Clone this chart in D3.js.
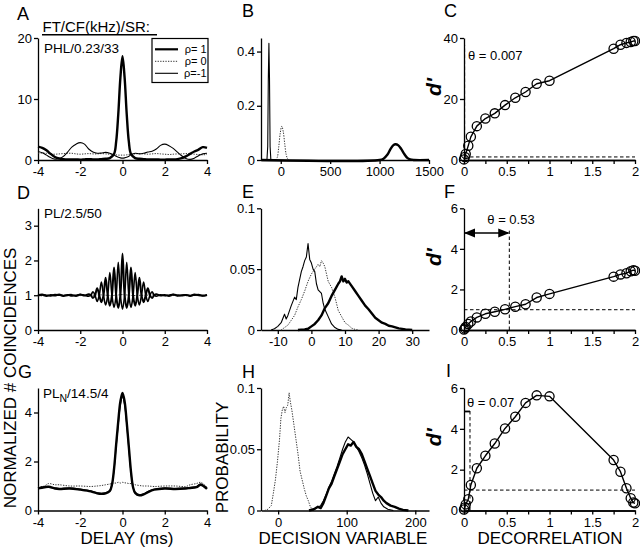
<!DOCTYPE html>
<html><head><meta charset="utf-8">
<script src="https://cdn.jsdelivr.net/npm/d3@7"></script>
<style>body{margin:0;background:#fff} text{font-family:"Liberation Sans",Arial,Helvetica,sans-serif}</style>
</head><body><script>
// ---------- DATA ----------
// Panel A (PHL/0.23/33) normalized coincidences vs delay (ms)
const aDelay = [-4,-3.8,-3.6,-3.4,-3.2,-3,-2.8,-2.6,-2.4,-2.2,-2,-1.8,-1.6,-1.4,-1.2,-1,-0.8,-0.6,-0.4,-0.3,-0.2,-0.1,0,0.1,0.2,0.3,0.4,0.6,0.8,1,1.2,1.4,1.6,1.8,2,2.2,2.4,2.6,2.8,3,3.2,3.4,3.6,3.8,4];
const aRho1 = [2.2,2.0,1.6,1.0,0.5,0.25,0.15,0.1,0.1,0.1,0.05,0.1,0.15,0.1,0.1,0.15,0.2,0.3,1.0,3.0,7.5,13.5,17,13.5,7.5,3.0,1.0,0.3,0.2,0.15,0.1,0.1,0.1,0.05,0.05,0.1,0.1,0.15,0.3,0.6,1.0,1.4,1.7,2.1,2.0];
const aRho0 = [1.1,1.15,1.1,1.0,0.95,1.0,1.05,1.1,1.1,1.0,0.95,1.0,1.05,1.0,1.0,1.05,1.0,0.95,0.9,0.85,0.8,0.8,0.8,0.8,0.85,0.9,0.95,1.0,1.05,1.0,0.95,1.0,1.05,1.0,0.95,0.9,0.95,1.0,1.0,1.05,1.0,0.95,0.9,0.85,0.9];
const aRhoM1 = [1.4,1.2,0.8,0.4,0.15,0.2,0.6,1.3,2.1,2.6,2.85,2.6,1.8,1.3,1.1,1.15,1.25,1.1,0.8,0.6,0.45,0.35,0.3,0.35,0.45,0.6,0.85,1.1,1.0,1.1,1.3,1.45,1.8,2.4,2.6,2.35,1.9,1.3,0.7,0.25,0.1,0.3,0.7,1.0,1.1];
// Panel B distributions of decision variable
const bRho1X = [-200,1000,1040,1080,1110,1140,1160,1190,1220,1250,1280,1310,1350,1500];
const bRho1Y = [0,0,0.005,0.02,0.04,0.055,0.058,0.054,0.04,0.022,0.008,0.002,0,0];
const bRho0X = [-50,-35,-20,-5,10,25,40,55,70,85];
const bRho0Y = [0,0.01,0.05,0.1,0.125,0.105,0.06,0.02,0.004,0];
const bRhoM1X = [-140,-132,-126,-120,-114,-108,-100];
const bRhoM1Y = [0,0.05,0.3,0.43,0.3,0.05,0];
// Panels C, F, I: d' vs decorrelation
const decorr = [0,0.01,0.02,0.05,0.08,0.15,0.25,0.36,0.48,0.6,0.72,0.85,1.0,1.75,1.83,1.9,1.95,1.98,2.0];
const cDprime = [0.2,1.0,2.0,4.7,7.6,11.1,13.6,15.3,18,20.4,22.3,25,26,36.5,37.8,38.4,38.7,39,39];
const fDprime = [0.02,0.08,0.15,0.3,0.42,0.62,0.8,0.9,1.02,1.15,1.27,1.6,1.78,2.63,2.74,2.8,2.9,2.95,2.92];
const iDprime = [0.05,0.15,0.3,0.55,1.25,2.07,2.68,3.28,4.02,4.59,5.27,5.64,5.59,2.47,1.9,1.09,0.6,0.39,0.35];
const thetas = [0.007, 0.53, 0.07];
const thetaLabels = ["θ = 0.007", "θ = 0.53", "θ = 0.07"];
// Panel D (PL/2.5/50)
const dDelay = [-4,-3.8,-3.6,-3.4,-3.2,-3,-2.8,-2.6,-2.4,-2.2,-2,-1.8,-1.6,-1.5,-1.4,-1.3,-1.2,-1.1,-1,-0.9,-0.8,-0.7,-0.6,-0.5,-0.4,-0.3,-0.2,-0.1,0,0.1,0.2,0.3,0.4,0.5,0.6,0.7,0.8,0.9,1,1.1,1.2,1.3,1.4,1.5,1.6,1.8,2,2.2,2.4,2.6,2.8,3,3.2,3.4,3.6,3.8,4];
const dRho1 = [1.0,1.02,0.98,1.01,0.99,1.02,0.98,1.0,1.01,0.98,1.02,0.99,
 1.03,1.0,0.92,1.0,1.2,1.0,0.8,1.0,1.5,1.0,0.7,1.0,1.8,1.0,0.63,1.0,2.2,1.0,0.63,1.0,1.8,1.0,0.7,1.0,1.5,1.0,0.8,1.0,1.2,1.0,0.92,1.0,1.03,
 0.99,1.01,0.98,1.02,1.0,0.99,1.01,0.98,1.02,1.0,0.99,1.01];
const dRhoM1 = [0.99,1.01,1.0,0.98,1.02,1.0,0.99,1.01,0.98,1.0,1.02,1.0,
 0.97,1.0,1.1,1.0,0.82,1.0,1.38,1.0,0.72,1.0,1.65,1.0,0.65,1.0,1.95,1.0,0.6,1.0,1.95,1.0,0.65,1.0,1.65,1.0,0.72,1.0,1.38,1.0,0.82,1.0,1.1,1.0,0.97,
 1.01,0.99,1.0,1.02,0.98,1.0,1.01,0.99,1.0,1.02,0.98,1.0];
const dRho0X = [-4,-3,-2,-1.5,-1,-0.5,0,0.5,1,1.5,2,3,4];
const dRho0Y = [0.98,1.0,0.99,1.0,1.01,0.99,1.02,0.99,1.0,1.01,0.99,1.0,0.98];
// Panel E
const eRhoM1X = [-12,-11,-10,-9,-8,-7.5,-7,-6,-5,-4.5,-4,-3,-2.5,-2,-1.5,-1,-0.5,0,0.5,1,1.5,2,3,3.5,4,5,6,7,8,9];
const eRhoM1Y = [0,0.001,0.003,0.006,0.013,0.009,0.012,0.02,0.027,0.025,0.035,0.048,0.052,0.057,0.06,0.071,0.058,0.055,0.05,0.048,0.038,0.033,0.03,0.022,0.017,0.011,0.005,0.002,0.0005,0];
const eRho0X = [-9,-8,-7,-6,-5,-4,-3,-2,-1,0,1,2,2.5,3,3.5,4,5,6,7,8,9,10,11,12,13,14];
const eRho0Y = [0,0.002,0.004,0.008,0.012,0.019,0.025,0.032,0.04,0.046,0.05,0.054,0.052,0.057,0.055,0.052,0.04,0.035,0.027,0.016,0.011,0.006,0.004,0.0015,0.0005,0];
const eRho1X = [-4,-2,-1,0,1,2,3,4,5,6,7,8,8.5,9,9.5,10,10.5,11,12,13,14,15,16,17,18,19,20,21,22,23,24,26,28,30];
const eRho1Y = [0,0.0005,0.001,0.003,0.005,0.008,0.012,0.018,0.022,0.028,0.033,0.038,0.04,0.044,0.04,0.042,0.039,0.04,0.036,0.032,0.028,0.024,0.02,0.017,0.0135,0.01,0.008,0.006,0.005,0.0035,0.003,0.0013,0.0005,0];
// Panel G (PL_N/14.5/4)
const gDelay = [-4,-3.7,-3.5,-3.2,-3,-2.5,-2,-1.5,-1.2,-1,-0.8,-0.6,-0.5,-0.4,-0.3,-0.2,-0.1,0,0.1,0.2,0.3,0.4,0.5,0.6,0.8,1,1.2,1.5,2,2.5,3,3.2,3.5,3.7,4];
const gRho1 = [0.9,0.95,0.97,0.9,0.88,0.9,0.85,0.78,0.7,0.68,0.7,0.8,1.05,1.7,2.7,3.65,4.45,4.8,4.45,3.6,2.6,1.6,0.95,0.72,0.62,0.66,0.75,0.85,0.9,0.88,0.9,0.92,0.95,1.05,0.88];
const gRhoM1 = [0.92,0.97,0.95,0.92,0.9,0.92,0.88,0.8,0.72,0.7,0.72,0.82,1.05,1.65,2.6,3.5,4.3,4.65,4.3,3.5,2.5,1.55,0.95,0.74,0.64,0.68,0.77,0.87,0.92,0.9,0.92,0.94,0.97,1.08,0.9];
const gRho0 = [0.95,1.0,1.1,1.05,1.05,1.0,1.0,0.98,1.0,1.02,1.05,1.08,1.1,1.12,1.12,1.15,1.12,1.15,1.13,1.12,1.1,1.1,1.08,1.05,1.02,1.0,1.0,0.98,1.0,1.0,0.98,1.05,1.1,1.15,0.95];
// Panel H
const hRho0X = [-20,-15,-10,-7,-4,-1,2,4,6,8,10,12,14,16,18,20,23,26,29,32,35,38,41,44,47,52];
const hRho0Y = [0,0.001,0.004,0.014,0.025,0.04,0.058,0.075,0.082,0.085,0.08,0.084,0.086,0.096,0.088,0.082,0.07,0.058,0.046,0.032,0.025,0.018,0.012,0.008,0.003,0];
const hRho1X = [45,52,58,62,66,70,74,78,82,86,90,94,98,102,106,110,114,118,122,126,130,134,138,142,146,150,154,158,164,170,176,182,190];
const hRho1Y = [0,0.001,0.003,0.002,0.006,0.012,0.018,0.022,0.028,0.034,0.04,0.046,0.05,0.054,0.053,0.056,0.052,0.05,0.046,0.04,0.034,0.028,0.022,0.016,0.013,0.011,0.008,0.006,0.004,0.003,0.0015,0.0005,0];
const hRhoM1X = [50,56,62,66,70,74,78,82,86,90,94,98,102,106,110,114,118,122,126,130,134,138,142,146,150,154,160,168];
const hRhoM1Y = [0,0.002,0.004,0.008,0.013,0.019,0.024,0.03,0.036,0.043,0.05,0.056,0.06,0.058,0.056,0.052,0.048,0.043,0.037,0.03,0.022,0.014,0.008,0.011,0.006,0.003,0.001,0];
// tick values
const delayTicks = [-4,-2,0,2,4];
const decorrTicks = [0,0.5,1,1.5,2];
const decorrMinor = [0.25,0.75,1.25,1.75];
const legendLabels = ["ρ= 1","ρ= 0","ρ=-1"];

// ---------- DRAW ----------
const svg = d3.select("body").append("svg").attr("width",640).attr("height",551);
svg.append("rect").attr("width",640).attr("height",551).attr("fill","#fff");
const COL = [[38,207],[261,429],[464,635]];
const ROW = [[160,38],[330,208.3],[510.5,388]];

function styleAxis(sel){
  sel.select(".domain").attr("stroke","#000").attr("stroke-width",1.3);
  sel.selectAll(".tick line").attr("stroke","#000").attr("stroke-width",1.3);
  sel.selectAll(".tick text").attr("fill","#000").style("font-size","13px")
     .style("font-family","'Liberation Sans',Arial,sans-serif");
}
function panel(ci, ri, xd, yd, xt, yt){
  const x = d3.scaleLinear().domain(xd).range(COL[ci]);
  const y = d3.scaleLinear().domain(yd).range(ROW[ri]);
  const g = svg.append("g");
  const gx = g.append("g").attr("transform",`translate(0,${ROW[ri][0]})`)
    .call(d3.axisBottom(x).tickValues(xt).tickSize(4).tickSizeOuter(0).tickPadding(3).tickFormat(d=>String(d)));
  styleAxis(gx);
  const gy = g.append("g").attr("transform",`translate(${COL[ci][0]},0)`)
    .call(d3.axisLeft(y).tickValues(yt).tickSize(4).tickSizeOuter(0).tickPadding(2).tickFormat(d=>String(d)));
  styleAxis(gy);
  return {x,y,g};
}
const THICK={w:2.4,dash:null,c:"#000"}, THIN={w:1.1,dash:null,c:"#000"}, DOT={w:1,dash:"1.3,1.3",c:"#333"};
function curve(p, xs, ys, st, cv){
  const data = xs.map((v,i)=>[v,ys[i]]);
  p.g.append("path").datum(data)
   .attr("d", d3.line().x(d=>p.x(d[0])).y(d=>p.y(d[1])).curve(cv||d3.curveLinear))
   .attr("fill","none").attr("stroke",st.c).attr("stroke-width",st.w)
   .attr("stroke-dasharray",st.dash).attr("stroke-linejoin","round");
}
function txt(x,y,s,size,opts={}){
  const t = svg.append("text").attr("x",x).attr("y",y).attr("font-size",size).attr("fill","#000").text(s);
  if(opts.anchor) t.attr("text-anchor",opts.anchor);
  if(opts.weight) t.attr("font-weight",opts.weight);
  if(opts.style) t.attr("font-style",opts.style);
  if(opts.rot!==undefined) t.attr("transform",`rotate(${opts.rot},${x},${y})`);
  return t;
}

// A
const pA = panel(0,0,[-4,4],[0,20],delayTicks,[0,10,20]);
curve(pA, aDelay, aRho0, DOT, d3.curveCatmullRom);
curve(pA, aDelay, aRhoM1, THIN, d3.curveCatmullRom);
curve(pA, aDelay, aRho1, THICK, d3.curveCatmullRom);
// legend
svg.append("rect").attr("x",152).attr("y",38.5).attr("width",56).attr("height",44).attr("fill","#fff").attr("stroke","#000").attr("stroke-width",1.2);
[THICK,DOT,THIN].forEach((st,i)=>{
  const yy = 49.3 + i*12;
  svg.append("line").attr("x1",155).attr("x2",178).attr("y1",yy).attr("y2",yy)
    .attr("stroke",st.c).attr("stroke-width",st.w===2.4?2.2:st.w).attr("stroke-dasharray",st.dash);
  txt(206.5, yy+3.8, legendLabels[i], "11px", {anchor:"end"});
});
txt(42.5,32,"FT/CF(kHz)/SR:","15px");
svg.append("line").attr("x1",42).attr("x2",157).attr("y1",34.8).attr("y2",34.8).attr("stroke","#000").attr("stroke-width",1.4);
txt(44,53.3,"PHL/0.23/33","13.5px");

// B
const pB = panel(1,0,[-200,1500],[0,0.45],[0,500,1000,1500],[0,0.2,0.4]);
curve(pB, bRho0X, bRho0Y, DOT, d3.curveCatmullRom);
curve(pB, bRhoM1X, bRhoM1Y, THIN);
curve(pB, bRho1X, bRho1Y, THICK, d3.curveCatmullRom);

// C, F, I
function dpanel(ri, yd, yt, dvals, k, arrowY){
  const p = panel(2, ri, [0,2], yd, decorrTicks, yt);
  const gm = p.g.append("g").attr("transform",`translate(0,${ROW[ri][0]})`)
    .call(d3.axisBottom(p.x).tickValues(decorrMinor).tickSize(4).tickSizeOuter(0).tickFormat(""));
  styleAxis(gm);
  p.g.append("line").attr("x1",p.x(0)).attr("x2",p.x(2)).attr("y1",p.y(1)).attr("y2",p.y(1))
    .attr("stroke","#000").attr("stroke-width",1).attr("stroke-dasharray","3.5,2.5");
  p.g.append("line").attr("x1",p.x(thetas[k])).attr("x2",p.x(thetas[k])).attr("y1",p.y(0)).attr("y2",p.y(arrowY*1.02))
    .attr("stroke","#000").attr("stroke-width",1).attr("stroke-dasharray","3.5,2.5");
  curve(p, decorr, dvals, {w:1.4,dash:null,c:"#000"});
  p.g.selectAll("circle.pt").data(decorr.map((v,i)=>[v,dvals[i]])).join("circle")
    .attr("cx",d=>p.x(d[0])).attr("cy",d=>p.y(d[1])).attr("r",4.6)
    .attr("fill","none").attr("stroke","#000").attr("stroke-width",1.3);
  return p;
}
const pC = dpanel(0,[0,40],[0,20,40],cDprime,0,37);
const pF = dpanel(1,[0,6],[0,2,4,6],fDprime,1,4.8);
const pI = dpanel(2,[0,6],[0,2,4,6],iDprime,2,4.8);
svg.append("defs").html('<marker id="ah" viewBox="0 0 10 10" refX="9" refY="5" markerWidth="7" markerHeight="7" orient="auto-start-reverse"><path d="M0,1 L10,5 L0,9 z" fill="#000"/></marker>');
svg.append("line").attr("x1",pF.x(0)+1).attr("x2",pF.x(0.53)-1).attr("y1",pF.y(4.78)).attr("y2",pF.y(4.78))
  .attr("stroke","#000").attr("stroke-width",1.6).attr("marker-start","url(#ah)").attr("marker-end","url(#ah)");
svg.append("line").attr("x1",pI.x(0)).attr("x2",pI.x(0.07)).attr("y1",pI.y(4.85)).attr("y2",pI.y(4.85))
  .attr("stroke","#000").attr("stroke-width",1.8);
txt(468,60,thetaLabels[0],"13px");
txt(511,224,thetaLabels[1],"13px",{anchor:"middle"});
txt(467,406.5,thetaLabels[2],"13px");
[[pC,0],[pF,1],[pI,2]].forEach(([p,ri])=>{
  const cy = (ROW[ri][0]+ROW[ri][1])/2 - 12;
  txt(441, cy, "d'", "21px", {anchor:"middle", weight:"bold", style:"italic", rot:-90});
});

// D
const pD = panel(0,1,[-4,4],[0,3.5],delayTicks,[0,1,2,3]);
curve(pD, dRho0X, dRho0Y, DOT);
curve(pD, dDelay, dRhoM1, {w:1.6,dash:null,c:"#000"}, d3.curveCatmullRom);
curve(pD, dDelay, dRho1, {w:2.0,dash:null,c:"#000"}, d3.curveCatmullRom);
txt(44,218.3,"PL/2.5/50","13.5px");

// E
const pE = panel(1,1,[-15,35],[0,0.1],[-10,0,10,20,30],[0,0.05,0.1]);
curve(pE, eRho0X, eRho0Y, DOT);
curve(pE, eRhoM1X, eRhoM1Y, THIN);
curve(pE, eRho1X, eRho1Y, THICK);

// G
const pG = panel(0,2,[-4,4],[0,5],delayTicks,[0,2,4]);
curve(pG, gDelay, gRho0, DOT, d3.curveCatmullRom);
curve(pG, gDelay, gRhoM1, THIN, d3.curveCatmullRom);
curve(pG, gDelay, gRho1, THICK, d3.curveCatmullRom);
const tg = txt(43,398.3,"PL","13.5px");
tg.append("tspan").attr("font-size","10.5px").attr("dy",4).text("N");
tg.append("tspan").attr("dy",-4).text("/14.5/4");

// H
const pH = panel(1,2,[-25,220],[0,0.1],[0,100,200],[0,0.05,0.1]);
curve(pH, hRho0X, hRho0Y, DOT);
curve(pH, hRhoM1X, hRhoM1Y, THIN);
curve(pH, hRho1X, hRho1Y, THICK);

// panel letters
const letters = [["A",17,20],["B",242,17],["C",444,17],["D",17,199],["E",242,198],["F",444,198],["G",18,378],["H",242,378],["I",446,377]];
letters.forEach(([s,x,y])=>txt(x,y,s,"18px"));

// axis titles
txt(15.5,378,"NORMALIZED # COINCIDENCES","17px",{anchor:"middle",rot:-90});
txt(228,457.5,"PROBABILITY","17px",{anchor:"middle",rot:-90});
txt(127,544,"DELAY (ms)","17px",{anchor:"middle"});
txt(343,544,"DECISION VARIABLE","17px",{anchor:"middle"});
txt(550,544,"DECORRELATION","17px",{anchor:"middle"});
</script></body></html>
